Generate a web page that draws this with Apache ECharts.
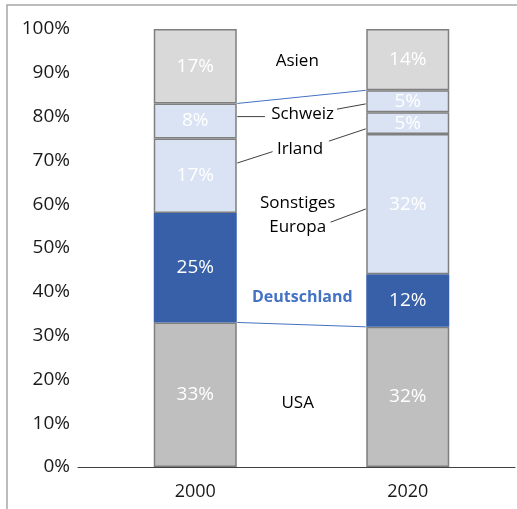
<!DOCTYPE html>
<html>
<head>
<meta charset="utf-8">
<script src="https://cdn.jsdelivr.net/npm/echarts@6/dist/echarts.min.js"></script>
<style>
  html, body { margin: 0; padding: 0; background: #fff; }
  #chart { width: 517px; height: 509px; }
</style>
</head>
<body>
<div id="chart"></div>
<script>
const years = ['2000', '2020']
// bottom to top
const usa = [33, 32]
const deutschland = [25, 12]
const sonstigesEuropa = ['-', 32]
const irland = [17, 5]
const schweiz = [8, 5]
const asien = [17, 14]

// annotation texts and where they sit (x on a -0.5..1.5 scale, y in %)
const labelNames = ['Asien', 'Schweiz', 'Irland', 'Sonstiges\nEuropa', 'Deutschland', 'USA']
const labelPos = [[0.48, 92.7], [0.505, 80.6], [0.493, 72.6], [0.482, 57.5], [0.504, 38.6], [0.482, 14.6]]
// leader lines: [bar index, y at bar edge, x end, y end]
const leaders = [
  [0, 80, 0.328, 80],
  [1, 82.9, 0.667, 81.7],
  [0, 69.4, 0.364, 72.0],
  [1, 77.2, 0.629, 74.4],
  [1, 58.9, 0.637, 55.9]
]

const FONT = 'Open Sans'
const HALF_BAR = 42
const num = (v) => (v === '-' ? 0 : v)
const europeTop = years.map((_, i) => num(usa[i]) + num(deutschland[i]) + num(sonstigesEuropa[i]) + num(irland[i]) + num(schweiz[i]))

const chart = echarts.init(document.getElementById('chart'))

function barSeries(name, data, color, border) {
  return {
    name: name,
    type: 'bar',
    stack: 'total',
    data: data,
    barWidth: 83,
    itemStyle: { color: color, borderColor: border, borderWidth: 1.5 },
    label: {
      show: true,
      position: 'inside',
      formatter: (p) => p.value + '%',
      color: '#ffffff',
      fontFamily: FONT,
      fontSize: 19
    }
  }
}

const option = {
  animation: false,
  backgroundColor: '#fff',
  graphic: [
    {
      type: 'rect',
      shape: { x: 7, y: 5, width: 530, height: 530 },
      style: { fill: 'none', stroke: '#a6a6a6', lineWidth: 1.5 }
    }
  ],
  grid: [
    { left: 89, right: 3, top: 29, bottom: 42 },
    { left: 78, right: 2, top: 29, bottom: 42 }
  ],
  xAxis: [
    {
      type: 'category',
      gridIndex: 0,
      data: years,
      axisLine: { show: false },
      axisTick: { show: false },
      axisLabel: { margin: 16, color: '#1a1a1a', fontFamily: FONT, fontSize: 18 }
    },
    { type: 'value', gridIndex: 0, min: -0.5, max: 1.5, show: false },
    {
      type: 'value',
      gridIndex: 1,
      min: 0,
      max: 1,
      axisLine: { show: true, lineStyle: { color: '#404040', width: 1 } },
      axisTick: { show: false },
      axisLabel: { show: false },
      splitLine: { show: false }
    }
  ],
  yAxis: [
    {
      type: 'value',
      gridIndex: 0,
      min: 0,
      max: 100,
      interval: 10,
      axisLine: { show: false },
      axisTick: { show: false },
      splitLine: { show: false },
      axisLabel: { formatter: '{value}%', margin: 19, color: '#1a1a1a', fontFamily: FONT, fontSize: 19 }
    },
    { type: 'value', gridIndex: 1, min: 0, max: 1, show: false }
  ],
  series: [
    barSeries('USA', usa, '#bfbfbf', '#7f7f7f'),
    barSeries('Deutschland', deutschland, '#3760a9', '#3760a9'),
    barSeries('Sonstiges Europa', sonstigesEuropa, '#dae3f3', '#7f7f7f'),
    barSeries('Irland', irland, '#dae3f3', '#7f7f7f'),
    barSeries('Schweiz', schweiz, '#dae3f3', '#7f7f7f'),
    barSeries('Asien', asien, '#d9d9d9', '#7f7f7f'),
    {
      // blue connectors bracketing Europe
      type: 'custom',
      xAxisIndex: 1,
      yAxisIndex: 0,
      data: [[usa[0], usa[1]], [europeTop[0], europeTop[1]]],
      renderItem: (params, api) => {
        const a = api.coord([0, api.value(0)])
        const b = api.coord([1, api.value(1)])
        return {
          type: 'line',
          shape: { x1: a[0] + HALF_BAR, y1: a[1], x2: b[0] - HALF_BAR, y2: b[1] },
          style: { stroke: '#4472c4', lineWidth: 1 }
        }
      },
      z: 5
    },
    {
      type: 'custom',
      xAxisIndex: 1,
      yAxisIndex: 0,
      data: leaders,
      renderItem: (params, api) => {
        const bar = api.value(0)
        const a = api.coord([bar, api.value(1)])
        const b = api.coord([api.value(2), api.value(3)])
        return {
          type: 'line',
          shape: { x1: a[0] + (bar === 0 ? HALF_BAR : -HALF_BAR), y1: a[1], x2: b[0], y2: b[1] },
          style: { stroke: '#404040', lineWidth: 1 }
        }
      },
      z: 5
    },
    {
      type: 'custom',
      xAxisIndex: 1,
      yAxisIndex: 0,
      data: labelPos,
      renderItem: (params, api) => {
        const p = api.coord([api.value(0), api.value(1)])
        const name = labelNames[params.dataIndex]
        const bold = name === 'Deutschland'
        return {
          type: 'text',
          x: p[0],
          y: p[1],
          style: {
            text: name,
            align: 'center',
            verticalAlign: 'middle',
            fill: bold ? '#4472c4' : '#000000',
            fontFamily: FONT,
            fontWeight: bold ? 'bold' : 'normal',
            fontSize: bold ? 16 : 17,
            lineHeight: 24
          }
        }
      },
      z: 6
    }
  ]
}

chart.setOption(option)
</script>
</body>
</html>
